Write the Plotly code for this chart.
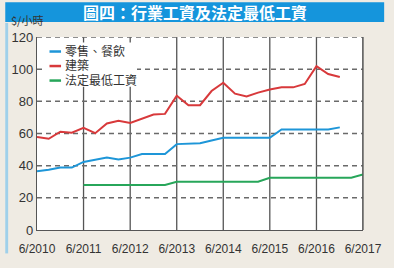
import plotly.graph_objects as go
import pandas as pd

# quarterly dates from 6/2010 to 6/2017
dates = pd.date_range("2010-06-01", "2017-06-01", freq="QS-MAR")
dates = [d.strftime("%Y-%m-%d") for d in dates]  # 29 quarters

retail = [36.5, 37.4, 38.8, 38.8, 42.3, 43.7, 45.0, 43.9, 45.0, 47.2, 47.2, 47.2,
          53.4, 53.6, 54.0, 55.7, 57.3, 57.3, 57.3, 57.3, 57.3, 62.5, 62.5, 62.5,
          62.5, 62.5, 63.8]
construction = [57.8, 56.7, 61.1, 60.5, 63.5, 60.2, 66.2, 67.9, 66.6, 69.3, 71.8, 72.2,
                83.5, 77.6, 77.6, 86.4, 91.6, 84.8, 83.1, 85.4, 87.3, 88.7, 88.7, 90.8,
                101.9, 97.0, 95.1]
min_wage = [28, 28, 28, 28, 28, 28, 28, 28,
            30, 30, 30, 30, 30, 30, 30, 30,
            32.5, 32.5, 32.5, 32.5, 32.5, 32.5, 32.5, 32.5, 34.5]

names = ["零售、餐飲", "建築", "法定最低工資"]
colors = ["#1e96d8", "#d8393b", "#27a65a"]

xtick_vals = [f"{y}-06-01" for y in range(2010, 2018)]
xtick_text = [f"6/{y}" for y in range(2010, 2018)]
ytick_vals = [0, 20, 40, 60, 80, 100, 120]

fig = go.Figure()
fig.add_trace(go.Scatter(x=dates[:len(retail)], y=retail, mode="lines", name=names[0],
                         line=dict(color=colors[0], width=2), showlegend=False))
fig.add_trace(go.Scatter(x=dates[:len(construction)], y=construction, mode="lines", name=names[1],
                         line=dict(color=colors[1], width=2), showlegend=False))
fig.add_trace(go.Scatter(x=dates[4:4 + len(min_wage)], y=min_wage, mode="lines", name=names[2],
                         line=dict(color=colors[2], width=2), showlegend=False))

L, R, T, B = 33, 22, 37, 25
W, H = 394, 268
pw, ph = W - L - R, H - T - B

def px_x(p):
    return (p - L) / pw

def px_y(p):
    return (H - B - p) / ph

shapes = [
    # title banner
    dict(type="rect", xref="paper", yref="paper", x0=px_x(0), x1=px_x(W), y0=px_y(21), y1=px_y(0),
         fillcolor="#1595dc", line=dict(width=0), layer="below"),
    dict(type="rect", xref="paper", yref="paper", x0=px_x(0), x1=px_x(3), y0=px_y(H), y1=px_y(22),
         fillcolor="#9fd0ea", line=dict(width=0), layer="below"),
]
# vertical year lines
for xv in xtick_vals[1:]:
    shapes.append(dict(type="line", xref="x", yref="paper", x0=xv, x1=xv, y0=0, y1=1,
                       line=dict(color="#555555", width=1.3), layer="below"))
# horizontal dashed grid
for yv in ytick_vals[1:]:
    shapes.append(dict(type="line", xref="paper", yref="y", x0=0, x1=1, y0=yv, y1=yv,
                       line=dict(color="#6a6a6a", width=1.5, dash="5px,4px"), layer="below"))

# manual legend box
shapes.append(dict(type="rect", xref="paper", yref="paper", x0=px_x(39), x1=px_x(137),
                   y0=px_y(90), y1=px_y(43), fillcolor="#ffffff", line=dict(width=0),
                   layer="below"))
annotations = [
    dict(text="<b>圖四：行業工資及法定最低工資</b>", xref="paper", yref="paper",
         x=px_x(197), y=px_y(10.5), xanchor="center", yanchor="middle", showarrow=False,
         font=dict(family="Noto Sans CJK TC", size=16, color="#ffffff")),
    dict(text="$/小時", xref="paper", yref="paper",
         x=px_x(4), y=px_y(30), xanchor="left", yanchor="bottom", showarrow=False,
         font=dict(family="Noto Sans CJK TC", size=11, color="#333333")),
]
leg_y = [52.5, 68, 83.5]
for name, col, ly in zip(names, colors, leg_y):
    shapes.append(dict(type="line", xref="paper", yref="paper", x0=px_x(46), x1=px_x(58),
                       y0=px_y(ly), y1=px_y(ly), line=dict(color=col, width=2.5)))
    annotations.append(dict(text=name, xref="paper", yref="paper", x=px_x(61), y=px_y(ly),
                            xanchor="left", yanchor="middle", showarrow=False,
                            borderpad=0,
                            font=dict(family="Liberation Sans, Noto Sans CJK TC", size=12,
                                      color="#333333")))

fig.update_layout(
    width=W, height=H,
    margin=dict(l=L, r=R, t=T, b=B),
    paper_bgcolor="#efebe3",
    plot_bgcolor="#ffffff",
    font=dict(family="Liberation Sans, Arial, Noto Sans CJK TC", size=12, color="#333333"),
    shapes=shapes,
    annotations=annotations,
    showlegend=False,
)
fig.update_xaxes(type="date", range=["2010-06-01", "2017-06-01"],
                 tickvals=xtick_vals, ticktext=xtick_text, showgrid=False,
                 showline=True, linecolor="#555555", linewidth=1.3, mirror=False,
                 ticks="outside", ticklen=7, tickcolor="rgba(0,0,0,0)",
                 tickfont=dict(size=12), zeroline=False)
fig.update_yaxes(range=[0, 120], tickvals=ytick_vals, showgrid=False,
                 showline=True, linecolor="#555555", linewidth=1.3,
                 ticks="", tickfont=dict(size=13), zeroline=False)
# right border
fig.add_shape(type="line", xref="paper", yref="paper", x0=1, x1=1, y0=0, y1=1,
              line=dict(color="#555555", width=1.3))

fig.write_html("out.html")
